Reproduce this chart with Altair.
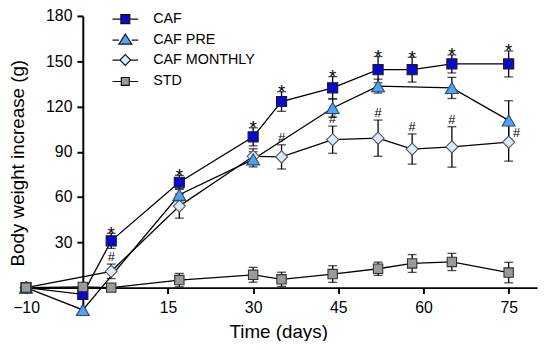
import altair as alt
import pandas as pd

# ---------------- data ----------------
series_names = ["CAF", "CAF PRE", "CAF MONTHLY", "STD"]

days_caf = [-10, 0, 5, 17, 30, 35, 44, 52, 58, 65, 75]
caf = [0, -4.5, 31, 69.8, 99.9, 123.3, 132.4, 144.4, 144.4, 148.2, 148.2]
caf_err = [0, 3, 5, 4.6, 6, 6.5, 7.4, 8.7, 8.2, 6, 8.6]

days_pre = [-10, 0, 17, 30, 44, 52, 65, 75]
pre = [0, -14.8, 61.5, 85, 119, 133.5, 132.3, 110.8]
pre_err = [0, 0, 4, 5, 6, 4.6, 7, 13]

days_mon = [-10, 5, 17, 30, 35, 44, 52, 58, 65, 75]
mon = [0, 10.8, 54, 87, 86.6, 98, 99, 91.8, 93.2, 96.4]
mon_err = [0, 4.8, 8, 5, 8, 9, 12, 10, 13.4, 12.6]

days_std = [-10, 0, 5, 17, 30, 35, 44, 52, 58, 65, 75]
std = [0, 0.5, 0, 5, 8.5, 5.5, 9, 12.5, 16, 17, 10]
std_err = [0, 2, 2.5, 4.4, 4.9, 4.7, 5.5, 4.4, 5.9, 5.7, 6.8]

star_days = [5, 17, 30, 35, 44, 52, 58, 65, 75]      # "*" over CAF
hash_days = [5, 35, 44, 52, 58, 65]                  # "#" over CAF MONTHLY
hash_side_days = [75]                                # "#" beside CAF MONTHLY

x_ticks = [-10, 15, 30, 45, 60, 75]
y_ticks = [30, 60, 90, 120, 150, 180]

# ---------------- table ----------------
rows = []
for name, d, v, e in [("CAF", days_caf, caf, caf_err),
                      ("CAF PRE", days_pre, pre, pre_err),
                      ("CAF MONTHLY", days_mon, mon, mon_err),
                      ("STD", days_std, std, std_err)]:
    for di, vi, ei in zip(d, v, e):
        rows.append({"series": name, "day": di, "val": vi, "err": ei,
                     "lo": vi - ei, "hi": vi + ei})
df = pd.DataFrame(rows)

stars = df[(df.series == "CAF") & (df.day.isin(star_days))].assign(t="*")
hashes = df[(df.series == "CAF MONTHLY") & (df.day.isin(hash_days))].assign(t="#")
hashes_side = df[(df.series == "CAF MONTHLY") & (df.day.isin(hash_side_days))].assign(t="#")

FONT = "Liberation Sans"
W, H = 523, 302.5
XDOM = [-11, 80]
YDOM = [-18, 180]
x_off = -W * (0 - XDOM[0]) / (XDOM[1] - XDOM[0])
y_off = -H * (0 - YDOM[0]) / (YDOM[1] - YDOM[0])

xscale = alt.Scale(domain=XDOM, nice=False, zero=False)
yscale = alt.Scale(domain=YDOM, nice=False, zero=False)
xaxis = alt.Axis(values=x_ticks, title="Time (days)", offset=y_off, grid=False,
                 domainColor="black", domainWidth=2, tickColor="black", tickWidth=2,
                 tickSize=6, labelPadding=6, labelFont=FONT, labelFontSize=16,
                 labelColor="black", titleFont=FONT, titleFontSize=19,
                 titleFontWeight="normal", titleColor="black",
                 titleX=261, titleY=50, titleBaseline="alphabetic")
yaxis = alt.Axis(values=y_ticks, title="Body weight increase (g)", offset=x_off, grid=False,
                 domainColor="black", domainWidth=2, tickColor="black", tickWidth=2,
                 tickSize=6, labelPadding=5, labelFont=FONT, labelFontSize=16,
                 labelColor="black", titleFont=FONT, titleFontSize=19,
                 titleFontWeight="normal", titleColor="black",
                 titleX=-60.5, titleY=148.5, titleBaseline="alphabetic")

X = alt.X("day:Q", scale=xscale, axis=xaxis)


def Y(field):
    return alt.Y(f"{field}:Q", scale=yscale, axis=yaxis)


base = alt.Chart(df)

lines = base.mark_line(color="black", strokeWidth=1.3).encode(
    x=X, y=Y("val"), detail="series:N", order="day:Q")

ebars = base.transform_filter("datum.err > 0")
err_rule = ebars.mark_rule(color="black", strokeWidth=1.3).encode(
    x=X, y=Y("lo"), y2="hi:Q")
cap_lo = ebars.mark_tick(color="black", orient="horizontal", size=9, thickness=1.3).encode(
    x=X, y=Y("lo"))
cap_hi = ebars.mark_tick(color="black", orient="horizontal", size=9, thickness=1.3).encode(
    x=X, y=Y("hi"))

styles = {
    "CAF MONTHLY": dict(shape="diamond", size=150, fill="#dce9f9", stroke="#555555"),
    "CAF PRE": dict(shape="triangle-up", size=170, fill="#52a2f2", stroke="#24497a"),
    "CAF": dict(shape="square", size=105, fill="#0a0acc", stroke="#1a1a2e"),
    "STD": dict(shape="square", size=90, fill="#9a9a9a", stroke="#333333"),
}
point_layers = []
for name in ["CAF MONTHLY", "CAF PRE", "CAF", "STD"]:
    s = styles[name]
    point_layers.append(
        base.transform_filter(alt.datum.series == name).mark_point(
            shape=s["shape"], size=s["size"], fill=s["fill"], stroke=s["stroke"],
            strokeWidth=1.1, opacity=1, filled=False, fillOpacity=1
        ).encode(x=X, y=Y("val"))
    )

star_text = alt.Chart(stars).mark_text(
    text="*", font=FONT, fontSize=19, baseline="alphabetic", dy=6.5, color="black"
).encode(x=X, y=Y("hi"))
hash_text = alt.Chart(hashes).mark_text(
    text="#", font=FONT, fontSize=13, baseline="alphabetic", dy=-3, color="black"
).encode(x=X, y=Y("hi"))
hash_side_text = alt.Chart(hashes_side).mark_text(
    text="#", font=FONT, fontSize=13, baseline="alphabetic", dx=8, dy=-5.5, color="black"
).encode(x=X, y=Y("val"))

# legend-only layer (no marks drawn, explicit domains)
legend_paths = [
    "M-2.6,0H-0.9M0.9,0H2.6M-0.9,-0.9H0.9V0.9H-0.9Z",
    "M-2.6,0.1H-1.3M1.3,0.1H2.6M0,-1.1L1.3,0.9H-1.3Z",
    "M-2.6,0H-1.1M1.1,0H2.6M0,-1.1L1.1,0L0,1.1L-1.1,0Z",
    "M-2.6,0H-0.8M0.8,0H2.6M-0.8,-0.8H0.8V0.8H-0.8Z",
]
legend_fills = ["#0a0acc", "#52a2f2", "#dce9f9", "#9a9a9a"]
legend_strokes = ["#111111", "#111111", "#111111", "#111111"]


def make_legend():
    return alt.Legend(title=None, orient="none", legendX=99, legendY=-4,
                      labelFont=FONT, labelFontSize=14.5, labelColor="black",
                      labelOffset=21, rowPadding=4.7, symbolSize=100,
                      symbolStrokeWidth=1.2)


legend_layer = base.transform_filter("false").mark_point(
    size=100, strokeWidth=1.2, opacity=1, filled=False, fillOpacity=1
).encode(
    x=X, y=Y("val"),
    shape=alt.Shape("series:N", scale=alt.Scale(domain=series_names, range=legend_paths),
                    legend=make_legend()),
    fill=alt.Fill("series:N", scale=alt.Scale(domain=series_names, range=legend_fills),
                  legend=make_legend()),
    stroke=alt.Stroke("series:N", scale=alt.Scale(domain=series_names, range=legend_strokes),
                      legend=make_legend()),
)

chart = alt.layer(
    lines, err_rule, cap_lo, cap_hi, *point_layers, star_text, hash_text, hash_side_text,
    legend_layer
).properties(
    width=W, height=H,
    autosize=alt.AutoSizeParams(type="none"),
    padding={"left": 12.5, "top": 6, "right": 5, "bottom": 24},
    background="white",
).configure_view(stroke=None)

chart.save("out.html", embed_options={"renderer": "svg", "actions": False})
